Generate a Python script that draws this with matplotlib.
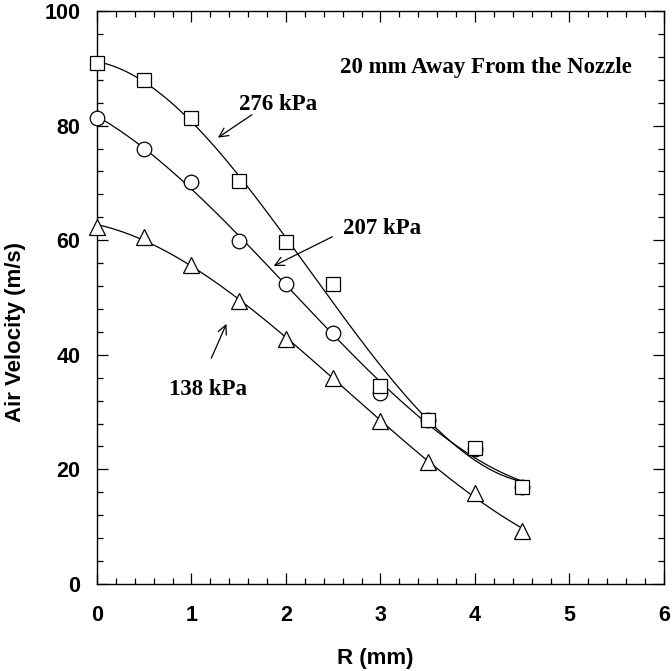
import numpy as np
import matplotlib
matplotlib.use("Agg")
import matplotlib.pyplot as plt
from matplotlib.ticker import MultipleLocator
from matplotlib.font_manager import FontProperties

# Data (R in mm, air velocity in m/s)
r = [0.0, 0.5, 1.0, 1.5, 2.0, 2.5, 3.0, 3.5, 4.0, 4.5]
v_276 = [90.9, 87.9, 81.3, 70.4, 59.7, 52.4, 34.5, 28.7, 23.8, 16.9]
v_207 = [81.3, 76.0, 70.2, 59.9, 52.4, 43.8, 33.3, 28.7, 23.6, 17.0]
v_138 = [62.3, 60.6, 55.7, 49.4, 42.7, 35.9, 28.5, 21.3, 15.9, 9.3]

title_text = "20 mm Away From the Nozzle"
labels = ["276 kPa", "207 kPa", "138 kPa"]

fig = plt.figure(figsize=(6.72, 6.71), dpi=100)
ax = fig.add_axes([0.1443, 0.1297, 0.8437, 0.8539])

rr = np.array(r)
xs = np.linspace(0, 4.5, 200)
series = [(v_138, '^', 11.5, 3), (v_207, 'o', 10.5, 4), (v_276, 's', 10, 5)]
for vals, mk, ms, z in series:
    c = np.polyfit(rr, np.array(vals), 3)
    ax.plot(xs, np.polyval(c, xs), color='black', lw=0.9, zorder=2)
    ax.plot(rr, vals, linestyle='none', marker=mk, ms=ms, mfc='white',
            mec='black', mew=0.9, zorder=z, clip_on=False)

ax.set_xlim(0, 6)
ax.set_ylim(0, 100)
ax.xaxis.set_major_locator(MultipleLocator(1))
ax.xaxis.set_minor_locator(MultipleLocator(0.2))
ax.yaxis.set_major_locator(MultipleLocator(20))
ax.yaxis.set_minor_locator(MultipleLocator(4))
ax.tick_params(which='both', direction='in', top=True, right=True, width=0.9)
ax.tick_params(which='major', length=8)
ax.tick_params(which='minor', length=4)
ax.tick_params(axis='x', which='major', pad=15)
ax.tick_params(axis='y', which='major', pad=12)
for s in ax.spines.values():
    s.set_linewidth(1.0)

tick_fp = FontProperties(family='Liberation Sans', weight='bold', size=15.5)
for lab in ax.get_xticklabels() + ax.get_yticklabels():
    lab.set_fontproperties(tick_fp)

lab_font = dict(family='Liberation Sans', weight='bold', size=16)
ax.set_xlabel("R (mm)", fontdict=lab_font)
ax.set_ylabel("Air Velocity (m/s)", fontdict=lab_font)
ax.xaxis.set_label_coords(0.49, -0.112)
ax.yaxis.set_label_coords(-0.126, 0.44)

serif = dict(family='Liberation Serif', weight='bold', size=16.5)
ax.text(4.12, 90.2, title_text, ha='center', va='center', **serif)

arrow = dict(arrowstyle='->', lw=0.9, color='black', shrinkA=0, shrinkB=0,
             mutation_scale=16)
ax.annotate("", xy=(1.28, 77.9), xytext=(1.64, 81.9), arrowprops=arrow)
ax.text(1.92, 83.6, labels[0], ha='center', va='center', **serif)
ax.annotate("", xy=(1.87, 55.5), xytext=(2.49, 60.6), arrowprops=arrow)
ax.text(3.02, 62.0, labels[1], ha='center', va='center', **serif)
ax.annotate("", xy=(1.37, 45.4), xytext=(1.21, 39.4), arrowprops=arrow)
ax.text(1.18, 34.0, labels[2], ha='center', va='center', **serif)

fig.savefig("out.png", dpi=100)
